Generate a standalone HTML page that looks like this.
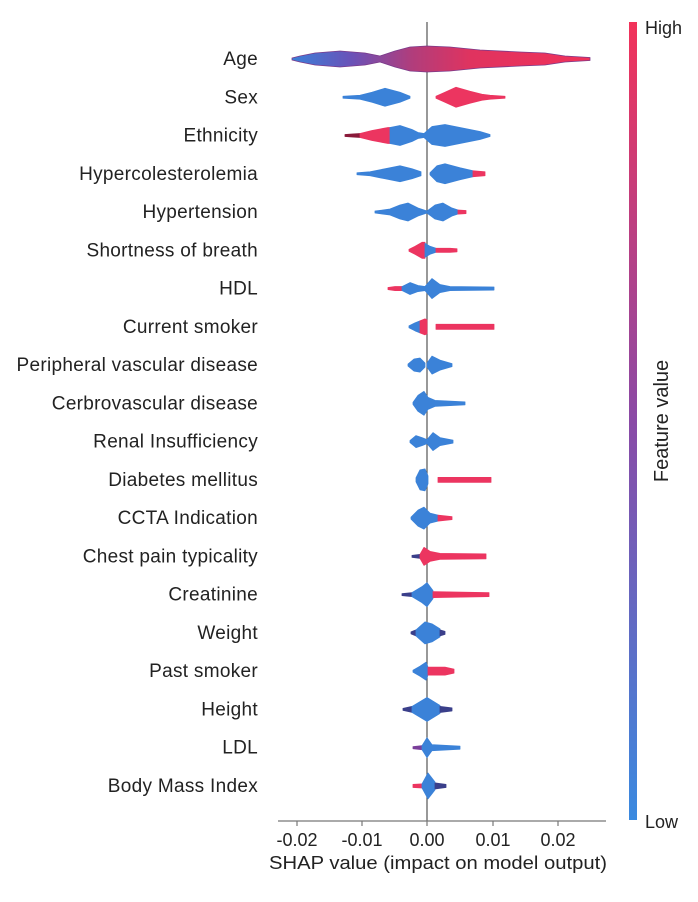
<!DOCTYPE html>
<html><head><meta charset="utf-8"><style>
body{margin:0;background:#fff;}
svg{display:block;font-family:"Liberation Sans",sans-serif;}
</style></head><body>
<svg id="s" width="698" height="902" viewBox="0 0 698 902" xmlns="http://www.w3.org/2000/svg">
<defs>
<linearGradient id="age" x1="292" x2="590" y1="0" y2="0" gradientUnits="userSpaceOnUse">
<stop offset="0" stop-color="#3b7fd8"/><stop offset="0.2" stop-color="#6a52b8"/><stop offset="0.4" stop-color="#b03d7c"/><stop offset="0.6" stop-color="#e0335f"/><stop offset="1" stop-color="#f0325a"/></linearGradient>
<linearGradient id="cb" x1="0" x2="0" y1="22" y2="820" gradientUnits="userSpaceOnUse">
<stop offset="0" stop-color="#f2335a"/><stop offset="0.5" stop-color="#8a4aa6"/><stop offset="1" stop-color="#3a8ae0"/></linearGradient>
</defs>
<line x1="427" y1="22" x2="427" y2="821" stroke="#555" stroke-width="1.2"/>
<g id="v"></g>
<line x1="278" y1="821" x2="606" y2="821" stroke="#777" stroke-width="1.2"/>
<g stroke="#777" stroke-width="1.2">
<line x1="297" y1="821" x2="297" y2="826"/><line x1="362" y1="821" x2="362" y2="826"/><line x1="427" y1="821" x2="427" y2="826"/><line x1="493" y1="821" x2="493" y2="826"/><line x1="558" y1="821" x2="558" y2="826"/></g>
<g font-size="18" fill="#222" text-anchor="middle">
<text x="297" y="846">-0.02</text><text x="362" y="846">-0.01</text><text x="427" y="846">0.00</text><text x="493" y="846">0.01</text><text x="558" y="846">0.02</text>
<text x="438" y="869" textLength="338" lengthAdjust="spacingAndGlyphs">SHAP value (impact on model output)</text></g>
<g font-size="19" fill="#222" text-anchor="end" id="lab" letter-spacing="0.3"></g>
<rect x="629" y="22" width="8" height="798" fill="url(#cb)"/>
<text x="645" y="34" font-size="18" fill="#222">High</text>
<text x="645" y="828" font-size="18" fill="#222">Low</text>
<text transform="translate(668,421) rotate(-90)" font-size="20" fill="#222" text-anchor="middle">Feature value</text>
</svg>
<script>
var B="#3b82d8",R="#ec3560",D="#3a3f8a",P="#7a3f9a";
var names=["Age","Sex","Ethnicity","Hypercolesterolemia","Hypertension","Shortness of breath","HDL","Current smoker","Peripheral vascular disease","Cerbrovascular disease","Renal Insufficiency","Diabetes mellitus","CCTA Indication","Chest pain typicality","Creatinine","Weight","Past smoker","Height","LDL","Body Mass Index"];
var V=[
[["url(#age)",[[292,1],[300,3],[315,6],[340,8],[365,6],[380,3],[395,8],[410,12],[427,13],[450,12],[480,9],[520,7],[545,6],[565,3],[590,1.5]]]],
[[B,[[343,1],[360,2],[372,5],[385,9],[400,5],[410,1]]],[R,[[436,1],[445,5],[456,10],[470,6],[482,3],[490,2],[505,1]]]],
[["#8a1a3a",[[345,1],[352,1.5],[360,2]]],[R,[[360,2],[372,5],[388,8],[390,8]]],[B,[[390,8],[400,10],[412,6],[418,3],[424,2]]],[B,[[424,2],[432,9],[445,11],[465,7],[480,4],[490,1]]]],
[[B,[[357,1],[370,2],[385,5],[400,8],[412,5],[421,2]]],[B,[[430,1],[437,8],[445,10],[460,6],[473,3]]],[R,[[473,3],[485,2]]]],
[[B,[[375,1],[390,3],[400,7],[408,9],[418,4],[427,1]]],[B,[[427,1],[435,7],[443,9],[452,4],[458,2]]],[R,[[458,2],[466,1.5]]]],
[[R,[[409,1],[415,4],[422,8],[425,8]]],[B,[[425,7],[430,4],[436,2]]],[R,[[436,2],[450,2],[457,1.5]]]],
[[R,[[388,1],[395,2],[402,2]]],[B,[[402,2],[410,6],[418,3],[425,2],[432,10],[440,4],[450,2],[494,1.5]]]],
[[B,[[409,1],[415,4],[420,6]]],[R,[[420,6],[425,8],[427,7]]],[R,[[436,2.5],[494,2.5]]]],
[[B,[[408,1],[414,6],[420,7],[425,2]]],[B,[[427,2],[432,9],[440,5],[452,1.5]]]],
[[B,[[413,1],[418,8],[424,12],[428,6],[435,3],[465,1.5]]]],
[[B,[[410,1],[416,6],[422,4],[427,2],[433,9],[440,4],[453,1.5]]]],
[[B,[[416,2],[420,10],[425,11],[428,4]]],[R,[[438,2.5],[491,2.5]]]],
[[B,[[411,1],[418,8],[424,11],[430,5],[438,3]]],[R,[[438,3],[452,1.5]]]],
[[D,[[412,1],[420,2]]],[R,[[420,2],[424,9],[430,5],[440,3],[486,2.5]]]],
[[D,[[402,1],[412,2]]],[B,[[412,2],[422,8],[427,12],[433,4]]],[R,[[433,3],[489,2]]]],
[[D,[[411,1],[416,3]]],[B,[[416,3],[425,11],[432,9],[440,4]]],[D,[[440,3],[445,1.5]]]],
[[B,[[413,1],[420,5],[426,9],[428,4]]],[R,[[428,4],[445,4],[454,2]]]],
[[D,[[403,1],[412,3]]],[B,[[412,3],[427,12],[440,4]]],[D,[[440,3],[452,1.5]]]],
[[P,[[413,1],[422,2]]],[B,[[422,2],[427,10],[432,3],[460,1.5]]]],
[[R,[[413,1.5],[422,2]]],[B,[[422,2],[428,13],[435,4]]],[D,[[435,3],[446,1.5]]]]
];
var g=document.getElementById("v"),L=document.getElementById("lab"),ns="http://www.w3.org/2000/svg";
for(var i=0;i<20;i++){var y=59+i*38.26;
 var t=document.createElementNS(ns,"text");t.setAttribute("x",258);t.setAttribute("y",y+6);t.textContent=names[i];L.appendChild(t);
 V[i].forEach(function(s){var p=s[1],d="M"+p[0][0]+","+y;
  p.forEach(function(q){d+=" L"+q[0]+","+(y-q[1]);});
  d+=" L"+p[p.length-1][0]+","+y;
  for(var k=p.length-1;k>=0;k--)d+=" L"+p[k][0]+","+(y+p[k][1]);
  d+="Z";var e=document.createElementNS(ns,"path");e.setAttribute("d",d);e.setAttribute("fill",s[0]);
  e.setAttribute("stroke",s[0].indexOf("url")==0?"#7a3a8a":s[0]);e.setAttribute("stroke-width","0.8");e.setAttribute("stroke-linejoin","round");g.appendChild(e);});
}
</script>
</body></html>
